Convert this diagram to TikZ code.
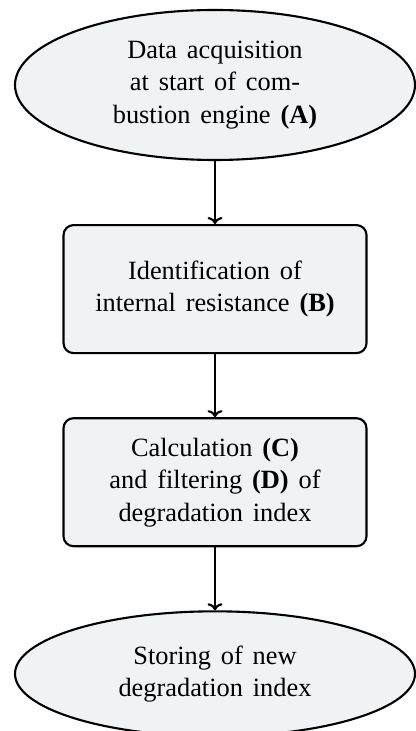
\documentclass[tikz,border=0pt]{standalone}
\usepackage{fontspec}
\setmainfont[WordSpace=1.5]{Liberation Serif}
\usetikzlibrary{shapes.geometric,positioning,arrows.meta}
\definecolor{boxfill}{RGB}{241,242,244}

\begin{document}
\begin{tikzpicture}[
        node distance=1.26cm,
        every node/.style={draw,line width=1.2pt,fill=boxfill,align=center,
            font=\fontsize{15}{18.5}\selectfont},
        term/.style={ellipse,inner sep=0pt,minimum width=8cm},
        proc/.style={rectangle,rounded corners=0.2cm,minimum width=6.06cm,minimum height=2.56cm}
    ]
        \useasboundingbox (0,0) rectangle (8.3,-14.62);
        \node[term,minimum height=3cm] (acq) at (4.3,-1.7)
            {Data acquisition\\at start of com-\\bustion engine \textbf{(A)}};
        \node[proc,below=of acq] (ident)
            {Identification of\\internal resistance \textbf{(B)}};
        \node[proc,below=of ident] (calc)
            {Calculation \textbf{(C)}\\and filtering \textbf{(D)} of\\degradation index};
        \node[term,minimum height=2.5cm,below=of calc] (store)
            {Storing of new\\degradation index};
        \foreach \a/\b in {acq/ident,ident/calc,calc/store} {
            \draw[line width=1.2pt,-{To[length=0.14cm,width=0.3cm]}] (\a) -- (\b);
        }
    \end{tikzpicture}
\end{document}
